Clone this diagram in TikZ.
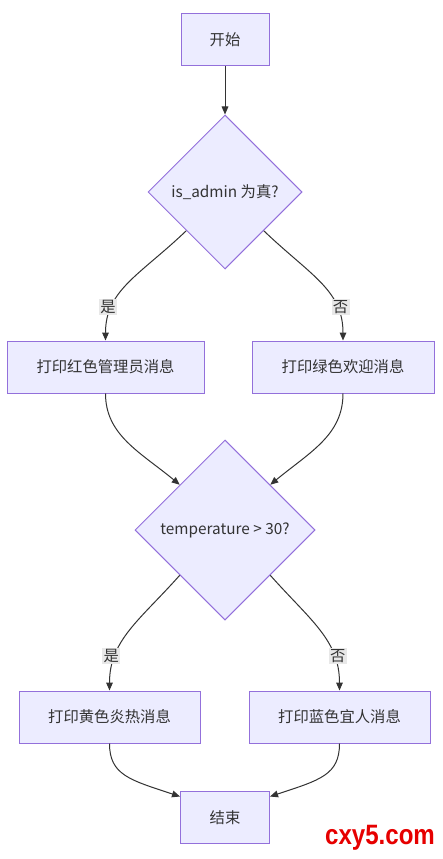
\documentclass[tikz,border=0pt]{standalone}
\usepackage{fontspec}
\newfontfamily\cjk{Noto Sans CJK SC}
\newfontfamily\wmfont{Liberation Sans}
\usetikzlibrary{arrows.meta,shapes.geometric}

\definecolor{boxfill}{HTML}{ECECFF}
\definecolor{boxline}{HTML}{9370DB}
\definecolor{edgeline}{HTML}{333333}
\definecolor{lblfill}{HTML}{E8E8E8}
\definecolor{wmred}{HTML}{E60000}

\tikzset{
  proc/.style={rectangle,draw=boxline,fill=boxfill,line width=0.75pt,
    minimum height=39pt,text=edgeline,font=\cjk\fontsize{11.5}{14}\selectfont},
  cond/.style={diamond,aspect=1,inner sep=0pt,draw=boxline,fill=boxfill,
    line width=0.75pt,text=edgeline,font=\cjk\fontsize{11.5}{14}\selectfont},
  flow/.style={draw=edgeline,line width=0.75pt,-{Triangle[length=6pt,width=5pt]}},
  lbl/.style={fill=lblfill,inner sep=1pt,text=edgeline,font=\cjk\fontsize{11.5}{14}\selectfont}
}

\begin{document}
\begin{tikzpicture}[x=0.75pt,y=-0.75pt]
\useasboundingbox (0,0) rectangle (442,859);

\node[proc,minimum width=66pt] (start) at (225,40) {开始};
\node[cond,minimum size=115.5pt] (admin) at (225,192) {is\_admin 为真?};
\node[proc,minimum width=147.75pt] (red) at (105.5,367) {打印红色管理员消息};
\node[proc,minimum width=136.5pt] (green) at (343,367) {打印绿色欢迎消息};
\node[cond,minimum size=135pt] (temp) at (225,530) {temperature > 30?};
\node[proc,minimum width=135.75pt] (yellow) at (109.5,717) {打印黄色炎热消息};
\node[proc,minimum width=135.75pt] (blue) at (339.5,717) {打印蓝色宜人消息};
\node[proc,minimum width=66.75pt] (end) at (225,817.5) {结束};

\draw[flow] (start) -- (admin);
\draw[flow] (admin.south west) .. controls (140,275) and (105.5,290) .. (red.north)
  node[lbl,pos=0.74,xshift=-3pt] (yes1) {是};
\draw[flow] (admin.south east) .. controls (310,275) and (343,290) .. (green.north)
  node[lbl,pos=0.74,xshift=3pt] (no1) {否};
\draw[flow] (red.south) .. controls (105.5,435) and (140,452) .. (temp.north west);
\draw[flow] (green.south) .. controls (343,435) and (310,452) .. (temp.north east);
\draw[flow] (temp.south west) .. controls (140,620) and (109.5,640) .. (yellow.north)
  node[lbl,pos=0.74,xshift=-3pt] (yes2) {是};
\draw[flow] (temp.south east) .. controls (310,620) and (339.5,640) .. (blue.north)
  node[lbl,pos=0.74,xshift=3pt] (no2) {否};
\draw[flow] (yellow.south) .. controls (109.5,775) and (130,780) .. (end.155);
\draw[flow] (blue.south) .. controls (339.5,775) and (320,780) .. (end.25);

% watermark
\node[text=wmred,font=\wmfont\bfseries\fontsize{21}{24}\selectfont,xscale=0.86] (mark) at (380,838) {cxy5.com};
\end{tikzpicture}
\end{document}
